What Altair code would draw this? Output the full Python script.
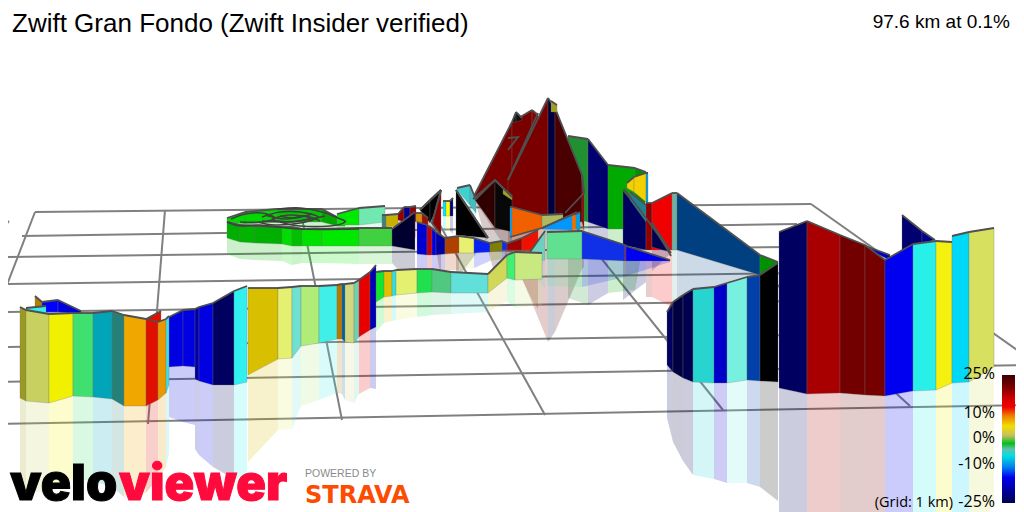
import altair as alt
import pandas as pd

# ---- grid of the ground plane (picture coordinates) ----
grid_lines = [
    [(35, 212), (811, 204)], [(22, 236), (797, 224)], [(0, 257), (790, 247)],
    [(0, 284), (800, 273)], [(0, 312), (946, 299)], [(0, 347), (990, 332)],
    [(0, 382), (1024, 365)], [(0, 424), (1024, 405)],
    [(35, 212), (0, 303)], [(165, 210), (148, 424)], [(300, 208), (342, 420)],
    [(430, 207), (545, 415)], [(560, 207), (723, 410)], [(690, 205), (910, 406)],
    [(811, 204), (1024, 355)], [(0, 231), (9, 221)],
]

# ---- ribbon sections: (x, top, bottom, colour to the next point); back to front ----
far_green = [(568, 136, 217, "#209030"), (588, 139, 222, None)]
far_navy = [(588, 139, 222, "#000070"), (608, 165, 229, None)]
far_bright = [(608, 165, 229, "#00aa00"), (635, 168, 229, "#009000"), (646, 172, 200, None)]
far_yellow = [(627, 183, 188, "#f5d000"), (634, 177, 192, "#f5d000"), (646, 173, 202, "#00a0e0"), (648, 173, 204, None)]
far_teal = [(630, 192, 200, "#208090"), (646, 205, 222, None)]
far_navy2 = [(623, 190, 245, "#000060"), (646, 218, 250, None)]
far_red = [(646, 203, 250, "#900000"), (652, 203, 250, "#f00000"), (672, 193, 250, "#70b0a0"), (677, 193, 250, None)]
far_tri = [(652, 223, 247, "#000050"), (670, 250, 252, None)]
far_blue = [(677, 193, 250, "#004080"), (760, 255, 275, "#009000"), (778, 262, 263, None)]

peak_left = [(473, 198, 198, "#7a0000"), (512, 122, 190, "#7a0000"), (532, 110, 205, "#8a0000"), (538, 115, 212, None)]
peak_tip = [(512, 122, 122, "#101010"), (516, 112, 122, "#101010"), (522, 118, 120, None)]
peak_main = [(508, 180, 212, "#7a0000"), (548, 98, 220, "#000040"), (555, 108, 220, "#4a0000"), (582, 175, 222, "#900000"), (584, 193, 230, None)]
peak_olive = [(551, 101, 112, "#a0a020"), (557, 105, 112, None)]
peak_front = [(475, 200, 200, "#300000"), (495, 180, 228, "#080808"), (512, 197, 232, None)]
peak_olive2 = [(503, 188, 194, "#a0a020"), (512, 196, 200, None)]
climb_orange = [(510, 207, 237, "#00a0f0"), (512, 207, 237, "#f06000"), (542, 215, 228, "#b0b860"), (563, 214, 218, None)]
climb_blue = [(542, 228, 229, "#0098ff"), (572, 215, 230, "#f07000"), (576, 214, 229, "#00a0e8"), (580, 212, 229, None)]
climb_red = [(505, 244, 250, "#a00000"), (522, 238, 250, "#f01000"), (538, 230, 250, None)]

ring_back = [(227, 218, 222, "#00d800"), (245, 212, 224, "#00d800"), (277, 209, 222, "#00c800"),
             (322, 209, 222, "#00a800"), (337, 217, 226, "#00d000"), (345, 216, 226, None)]
ring_bright = [(337, 214, 225, "#00ea00"), (359, 208, 225, "#70e8b0"), (385, 206, 222, None)]
mid_gold = [(382, 215, 227, "#408080"), (386, 215, 227, "#c8b000"), (398, 214, 226, None)]
mid_small = [(398, 214, 220, "#900000"), (404, 207, 222, "#000090"), (410, 207, 220, "#900000"), (416, 206, 222, None)]
mid_cyan = [(443, 201, 216, "#00e8ff"), (446, 201, 216, "#ffff00"), (450, 201, 216, "#000080"), (453, 198, 216, None)]
mid_teal = [(457, 188, 190, "#40d0d0"), (470, 185, 205, "#40c0c0"), (476, 200, 213, None)]
mid_tri_black = [(420, 210, 210, "#000000"), (430, 200, 223, "#000000"), (441, 190, 200, None)]
mid_tri_orange = [(416, 213, 222, "#d89000"), (422, 213, 224, "#a01000"), (428, 218, 228, None)]
mid_tri_red = [(432, 223, 223, "#8a0000"), (441, 190, 235, None)]
mid_tri_big = [(456, 190, 235, "#000000"), (488, 238, 238, None)]
ring_front = [(227, 222, 238, "#00b000"), (240, 225, 242, "#00b400"), (255, 226, 243, "#00b000"),
              (282, 227, 244, "#00dc00"), (292, 227, 246, "#00c000"), (302, 229, 246, "#00e000"),
              (322, 229, 246, "#00e800"), (359, 228, 246, "#40d040"), (392, 228, 246, None)]
mid_navy = [(392, 229, 246, "#000030"), (415, 212, 250, None)]
mid_row = [(417, 222, 254, "#0000d0"), (427, 225, 255, "#c00010"), (432, 228, 255, "#0000e0"),
           (436, 232, 255, "#0000a0"), (445, 238, 254, "#b04000"), (459, 236, 253, "#e8f070"),
           (474, 238, 253, "#0820f0"), (490, 243, 252, "#808000"), (502, 241, 250, "#1030e0"), (507, 243, 250, None)]

back_teal = [(530, 252, 262, "#70d0c0"), (545, 231, 260, None)]
back_row = [(547, 232, 259, "#60e090"), (582, 231, 259, "#1030e8"), (625, 245, 261, "#b00000"),
            (626, 246, 261, "#0000f0"), (670, 260, 261, None)]

right_back = [(902, 215, 250, "#000070"), (922, 231, 243, "#000090"), (935, 240, 240, None)]
right_back2 = [(860, 244, 246, "#0000c0"), (890, 255, 260, None)]
right_block = [(667, 312, 365, "#000060"), (673, 302, 372, "#000040"), (683, 295, 378, "#000050"),
               (693, 289, 382, "#28d4d0"), (714, 287, 383, "#0000c8"), (727, 283, 383, "#78f0e0"),
               (747, 277, 380, "#0040a8"), (760, 275, 381, "#000000"), (778, 263, 382, None)]
right_block2 = [(779, 232, 388, "#000060"), (807, 221, 394, "#a80000"), (840, 235, 393, "#720000"),
                (865, 245, 395, "#760000"), (885, 260, 396, "#0000f0"), (913, 244, 391, "#28f0e8"),
                (936, 241, 390, "#f4f010"), (952, 242, 383, None)]
right_block3 = [(952, 236, 383, "#00d8f8"), (969, 232, 382, "#d8e060"), (994, 228, 367, None)]

front_mid = [(376, 272, 302, "#10e830"), (384, 271, 297, "#e0c000"), (392, 271, 296, "#30e0e0"),
             (396, 270, 295, "#e4f070"), (417, 269, 293, "#20e050"), (432, 269, 292, "#50c880"),
             (451, 272, 293, "#60e0d8"), (488, 274, 293, "#d0d858"), (507, 255, 278, "#40f070"),
             (515, 252, 280, "#c8e880"), (542, 253, 279, None)]
front_c = [(248, 288, 375, "#d8c000"), (278, 288, 359, "#e4f070"), (292, 287, 358, "#70e0d0"),
           (301, 286, 346, "#b0ec78"), (319, 286, 343, "#40f0e8"), (337, 285, 339, "#b87800"),
           (342, 284, 339, "#0060a0"), (345, 284, 342, "#d0d880"), (354, 283, 343, "#70d0b0"),
           (359, 280, 337, "#e80000"), (370, 272, 330, "#0000b0"), (376, 265, 327, None)]
front_b2 = [(169, 317, 367, "#0000e0"), (183, 310, 366, "#0000e0"), (195, 309, 367, None)]
front_b = [(195, 309, 379, "#0000a0"), (199, 307, 381, "#0000e0"), (213, 303, 385, "#000060"),
           (234, 291, 385, "#30f0f0"), (247, 286, 382, None)]
left_back = [(35, 296, 309, "#b08000"), (42, 302, 312, "#0000ff"), (58, 300, 312, "#0000e0"), (81, 311, 314, None)]
left_back2 = [(26, 308, 312, "#30f0f0"), (46, 306, 314, None)]
front_a = [(20, 307, 398, "#9a9a20"), (26, 310, 401, "#c8d060"), (49, 314, 403, "#f0f000"),
           (73, 313, 396, "#40e070"), (93, 313, 397, "#00a5b8"), (112, 311, 399, "#248078"),
           (124, 315, 406, "#f0a800"), (146, 319, 406, "#e01000"), (158, 322, 400, "#e89800"),
           (166, 319, 393, "#40e0e0"), (169, 316, 385, None)]
front_a_back = [(146, 319, 330, "#e01000"), (161, 311, 330, None)]

sections = [far_green, far_navy, far_bright, far_navy2, far_teal, far_yellow, far_red, far_tri, far_blue,
            peak_left, peak_tip, peak_main, peak_olive, ring_back, ring_bright, mid_gold, mid_small, mid_cyan,
            mid_teal, mid_tri_black, mid_tri_orange, mid_tri_red, mid_tri_big, peak_front, peak_olive2,
            climb_red, climb_orange, climb_blue, ring_front, mid_navy, mid_row, back_teal, back_row,
            right_back, right_back2, right_block, right_block2, right_block3,
            front_mid, front_c, front_b2, front_b, left_back, left_back2, front_a_back, front_a]

# the tangled road of the start loops, seen from above
tangle = [
    [(231, 219), (245, 214), (262, 213), (275, 218), (262, 222), (240, 222)],
    [(262, 217), (280, 212), (300, 212), (318, 217), (300, 223), (275, 225), (258, 222)],
    [(272, 219), (290, 215), (310, 218), (292, 222), (272, 220)],
    [(278, 209), (300, 208), (322, 212), (338, 218), (345, 222), (330, 226), (300, 226), (280, 222)],
    [(265, 215), (285, 219), (305, 216), (320, 221)],
    [(262, 221), (285, 222), (305, 220), (325, 216)],
    [(280, 216), (295, 218), (312, 214)],
    [(227, 222), (240, 226), (260, 225), (300, 229), (359, 229)],
]
# other stretches of road that show as dark lines across the ribbons
roads = [
    [(510, 237), (542, 228), (577, 212)],
    [(624, 189), (646, 218), (671, 253)],
    [(652, 223), (671, 256)],
    [(473, 199), (495, 180), (512, 197)],
    [(538, 113), (508, 180)],
    [(508, 138), (518, 137), (508, 150)],
    [(582, 175), (584, 193), (565, 213)],
    [(456, 190), (488, 238)],
    [(420, 210), (441, 190)],
    [(441, 190), (432, 223), (441, 235)],
]

# ---- colour legend ----
legend_stops = [(0, "#3a0000"), (.1, "#800000"), (.18, "#d00000"), (.25, "#f00000"), (.32, "#f08000"),
                (.4, "#f0e000"), (.47, "#c8c060"), (.5, "#70c040"), (.535, "#00c020"), (.58, "#60c0b0"),
                (.63, "#00e0e0"), (.72, "#0080f0"), (.8, "#0000f0"), (.9, "#0000a0"), (1, "#000050")]
legend_labels = ["25%", "10%", "0%", "-10%", "-25%"]
legend_label_y = [379, 418, 443, 469, 507]

X = alt.Scale(domain=[8, 1016], nice=False, zero=False)
Y = alt.Scale(domain=[512, 8], nice=False, zero=False)


def xe(f="x"):
    return alt.X(f + ":Q", scale=X, axis=None)


def ye(f="y"):
    return alt.Y(f + ":Q", scale=Y, axis=None)


def seg_rows(sec):
    rows = []
    for i in range(len(sec) - 1):
        a, b = sec[i], sec[i + 1]
        for p in (a, b):
            rows.append({"x": p[0], "top": p[1], "bot": p[2], "c": a[3], "s": i,
                         "mir": p[2] + (p[2] - p[1])})
    return pd.DataFrame(rows)


def poly(lines):
    return pd.DataFrame([{"x": p[0], "y": p[1], "g": i, "o": j}
                         for i, l in enumerate(lines) for j, p in enumerate(l)])


layers = []
# grid
layers.append(alt.Chart(poly(grid_lines)).mark_line(color="#808080", strokeWidth=2, clip=True).encode(
    x=xe(), y=ye(), detail="g:N", order="o:Q"))

# reflections
for sec in sections:
    d = seg_rows(sec)
    layers.append(alt.Chart(d).mark_area(opacity=0.2, clip=True).encode(
        x=xe(), y=alt.Y("bot:Q", scale=Y, axis=None), y2="mir:Q",
        color=alt.Color("c:N", scale=None), detail="s:N"))

# ribbons
for sec in sections:
    d = seg_rows(sec)
    layers.append(alt.Chart(d).mark_area(strokeWidth=0.5, strokeOpacity=0.6, clip=True).encode(
        x=xe(), y=alt.Y("top:Q", scale=Y, axis=None), y2="bot:Q",
        color=alt.Color("c:N", scale=None), stroke=alt.value("#777777"), detail="s:N"))
    layers.append(alt.Chart(d).mark_line(color="#505050", strokeWidth=1.8, clip=True).encode(
        x=xe(), y=alt.Y("top:Q", scale=Y, axis=None), detail="s:N"))

layers.append(alt.Chart(poly(tangle)).mark_line(color="#404040", strokeWidth=1.6, interpolate="cardinal").encode(
    x=xe(), y=ye(), detail="g:N", order="o:Q"))
layers.append(alt.Chart(poly(roads)).mark_line(color="#505050", strokeWidth=1.8).encode(
    x=xe(), y=ye(), detail="g:N", order="o:Q"))

# colour bar
bar = pd.DataFrame({"x": [1002], "x2": [1015], "y": [375], "y2": [503]})
layers.append(alt.Chart(bar).mark_rect(color=alt.Gradient(
    gradient="linear", x1=0, x2=0, y1=0, y2=1,
    stops=[alt.GradientStop(offset=o, color=c) for o, c in legend_stops])).encode(
    x=xe(), x2="x2:Q", y=ye(), y2="y2:Q"))


def text(label, x, y, size, color="#000000", font="Liberation Sans", align="left", weight="normal", heavy=0):
    d = pd.DataFrame({"x": [x], "y": [y], "t": [label]})
    kw = {"stroke": color, "strokeWidth": heavy} if heavy else {}
    return alt.Chart(d).mark_text(fontSize=size, color=color, font=font, align=align,
                                  baseline="alphabetic", fontWeight=weight, **kw).encode(
        x=xe(), y=ye(), text="t:N")


for lab, yy in zip(legend_labels, legend_label_y):
    layers.append(text(lab, 995, yy, 16, font="Open Sans", align="right"))
layers.append(text("(Grid: 1 km)", 953, 507, 14.5, font="Open Sans", align="right"))
layers.append(text("Zwift Gran Fondo (Zwift Insider verified)", 12, 32, 26))
layers.append(text("97.6 km at 0.1%", 1010, 28, 19, align="right"))
layers.append(text("velo", 10, 500, 50, font="Inter", weight=900, heavy=1))
layers.append(text("viewer", 119, 500, 49, color="#ff0a3c", font="Inter", weight=900, heavy=1))
layers.append(text("POWERED BY", 305, 477, 10.5, color="#8a8a8a", font="Liberation Sans"))
layers.append(text("STRAVA", 305, 503, 24, color="#fc4c02", font="DejaVu Sans", weight="bold"))

chart = alt.layer(*layers).properties(
    width=1008, height=504, padding=0, autosize=alt.AutoSizeParams(type="none")
).configure_view(stroke=None).resolve_scale(color="independent")

chart.save("out.html", embed_options={"renderer": "svg", "actions": False})
